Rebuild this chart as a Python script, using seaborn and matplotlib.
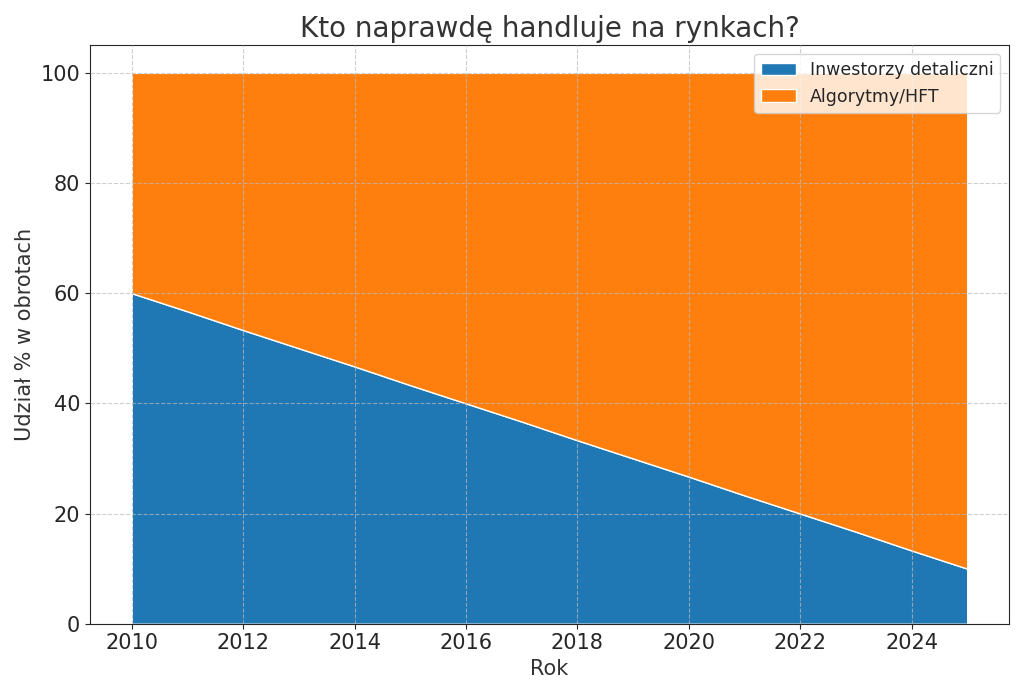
import matplotlib
matplotlib.use("Agg")
import matplotlib.pyplot as plt
import seaborn as sns

years = list(range(2010, 2026))
retail = [60.0, 56.7, 53.3, 50.0, 46.7, 43.3, 40.0, 36.7, 33.3, 30.0, 26.7, 23.3, 20.0, 16.7, 13.3, 10.0]
algo = [40.0, 43.3, 46.7, 50.0, 53.3, 56.7, 60.0, 63.3, 66.7, 70.0, 73.3, 76.7, 80.0, 83.3, 86.7, 90.0]
labels = ["Inwestorzy detaliczni", "Algorytmy/HFT"]

sns.set_style("ticks")
plt.rcParams['font.family'] = ['DejaVu Sans']
colors = sns.color_palette("tab10", 2)

fig, ax = plt.subplots(figsize=(10.24, 6.94), dpi=100)
ax.stackplot(years, retail, algo, labels=labels, colors=colors)
ax.set_axisbelow(False)
ax.grid(True, linestyle="--", color="#bbbbbb", alpha=0.7)
ax.set_title("Kto naprawdę handluje na rynkach?", fontsize=20, color="#333333")
ax.set_xlabel("Rok", fontsize=15, color="#333333")
ax.set_ylabel("Udział % w obrotach", fontsize=15, color="#333333")
ax.tick_params(labelsize=15)
ax.set_xticks(range(2010, 2026, 2))
ax.set_ylim(0, 105)
ax.set_yticks(range(0, 101, 20))
ax.legend(loc="upper right", fontsize=12.5)
plt.tight_layout()
plt.savefig("out.png")
